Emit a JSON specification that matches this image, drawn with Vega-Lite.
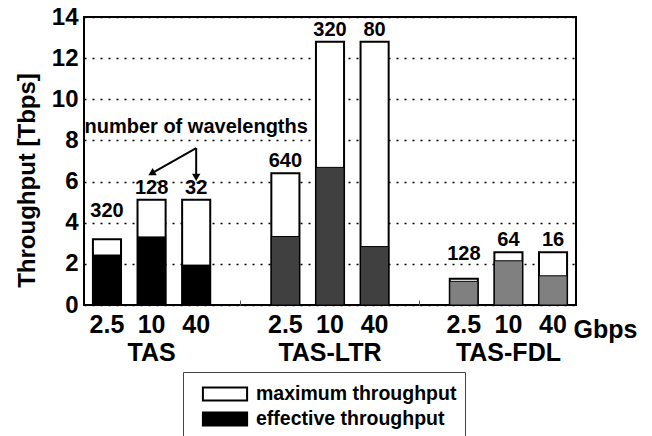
{
  "$schema": "https://vega.github.io/schema/vega-lite/v6.json",
  "width": 492,
  "height": 288,
  "autosize": "none",
  "padding": {"left": 84, "top": 17, "right": 76, "bottom": 131},
  "background": "white",
  "config": {
    "font": "Liberation Sans",
    "view": {"stroke": "black", "strokeWidth": 2},
    "axis": {"labelFont": "Liberation Sans", "labelFontWeight": "bold", "titleFont": "Liberation Sans", "titleFontWeight": "bold", "labelColor": "black", "titleColor": "black"},
    "axisY": {"labelFontSize": 24, "titleFontSize": 24, "labelPadding": 6},
    "text": {"font": "Liberation Sans", "fontWeight": "bold", "color": "black"}
  },
  "datasets": {
    "bars": [
      {"bar": "TAS|2.5", "group": "TAS", "rate": "2.5", "max": 3.2, "eff": 2.43, "waves": "320"},
      {"bar": "TAS|10", "group": "TAS", "rate": "10", "max": 5.12, "eff": 3.31, "waves": "128"},
      {"bar": "TAS|40", "group": "TAS", "rate": "40", "max": 5.12, "eff": 1.94, "waves": "32"},
      {"bar": "TAS-LTR|2.5", "group": "TAS-LTR", "rate": "2.5", "max": 6.4, "eff": 3.33, "waves": "640"},
      {"bar": "TAS-LTR|10", "group": "TAS-LTR", "rate": "10", "max": 12.8, "eff": 6.69, "waves": "320"},
      {"bar": "TAS-LTR|40", "group": "TAS-LTR", "rate": "40", "max": 12.8, "eff": 2.84, "waves": "80"},
      {"bar": "TAS-FDL|2.5", "group": "TAS-FDL", "rate": "2.5", "max": 1.28, "eff": 1.15, "waves": "128"},
      {"bar": "TAS-FDL|10", "group": "TAS-FDL", "rate": "10", "max": 2.56, "eff": 2.15, "waves": "64"},
      {"bar": "TAS-FDL|40", "group": "TAS-FDL", "rate": "40", "max": 2.56, "eff": 1.42, "waves": "16"}
    ],
    "note": [{"bar": "TAS|40", "y": 8.65, "text": "number of wavelengths"}],
    "arrows": [
      {"bar": "TAS|40", "bar2": "TAS|10", "y": 7.63, "y2": 6.4},
      {"bar": "TAS|40", "bar2": "TAS|40", "y": 7.63, "y2": 6.2}
    ]
  },
  "encoding": {
    "x": {
      "field": "bar", "type": "nominal",
      "scale": {"domain": ["TAS|2.5", "TAS|10", "TAS|40", "gap1", "TAS-LTR|2.5", "TAS-LTR|10", "TAS-LTR|40", "gap2", "TAS-FDL|2.5", "TAS-FDL|10", "TAS-FDL|40"], "paddingInner": 0.37, "paddingOuter": 0.2},
      "axis": {
        "title": "Gbps", "titleX": 489, "titleY": 12, "titleAlign": "left", "titleBaseline": "top", "titleFontSize": 25,
        "labelExpr": "indexof(datum.value,'gap')==0 ? '' : (split(datum.value,'|')[1] == '10' ? ['10', split(datum.value,'|')[0]] : split(datum.value,'|')[1])",
        "labelFontSize": 25, "labelLineHeight": 28, "labelPadding": 12, "labelAngle": 0, "labelOverlap": false, "labelBound": false,
        "domain": false, "ticks": true, "tickSize": -5, "tickColor": "#555", "tickWidth": 1, "zindex": 1,
        "tickOpacity": {"condition": {"test": "indexof(datum.value,'gap')==0", "value": 1}, "value": 0}
      }
    }
  },
  "layer": [
    {
      "data": {"name": "bars"},
      "mark": {"type": "bar", "stroke": "black", "strokeWidth": 2},
      "encoding": {
        "y": {"field": "max", "type": "quantitative", "scale": {"domain": [0, 14], "nice": false},
          "axis": {"values": [0, 2, 4, 6, 8, 10, 12, 14], "grid": true, "gridColor": "black", "gridDash": [2, 6], "gridWidth": 1.5, "ticks": false, "domain": false, "labelFontSize": 24, "labelPadding": 6, "title": "Throughput [Tbps]", "titleFontSize": 24, "titlePadding": 12, "titleY": 163}},
        "fill": {"datum": "maximum throughput", "type": "nominal",
          "scale": {"domain": ["maximum throughput", "effective throughput"], "range": ["white", "black"]},
          "legend": {"orient": "none", "legendX": 99, "legendY": 355, "title": null, "strokeColor": "#444", "fillColor": "white", "padding": 8, "symbolType": "M-1.7,-0.5H1.7V0.5H-1.7Z", "symbolSize": 676, "symbolStrokeColor": "black", "symbolStrokeWidth": 2, "symbolOffset": 20, "labelOffset": 17, "labelLimit": 400, "labelFontSize": 19.5, "labelFont": "Liberation Sans", "labelFontWeight": "bold", "labelColor": "black", "rowPadding": -4}}
      }
    },
    {
      "data": {"name": "bars"},
      "mark": {"type": "bar", "stroke": "black", "strokeWidth": 1},
      "encoding": {
        "y": {"field": "eff", "type": "quantitative"},
        "fill": {
          "condition": [
            {"test": "datum.group == 'TAS-LTR'", "value": "#404040"},
            {"test": "datum.group == 'TAS-FDL'", "value": "#808080"}
          ],
          "datum": "effective throughput", "type": "nominal"
        }
      }
    },
    {
      "data": {"name": "bars"},
      "transform": [{"filter": "datum.bar != 'TAS|2.5' && datum.bar != 'TAS-FDL|2.5'"}],
      "mark": {"type": "text", "baseline": "bottom", "dy": -2, "fontSize": 20},
      "encoding": {"y": {"field": "max", "type": "quantitative"}, "text": {"field": "waves"}}
    },
    {
      "data": {"name": "bars"},
      "transform": [{"filter": "datum.bar == 'TAS|2.5'"}],
      "mark": {"type": "text", "baseline": "bottom", "dy": -18, "fontSize": 20},
      "encoding": {"y": {"field": "max", "type": "quantitative"}, "text": {"field": "waves"}}
    },
    {
      "data": {"name": "bars"},
      "transform": [{"filter": "datum.bar == 'TAS-FDL|2.5'"}],
      "mark": {"type": "text", "baseline": "bottom", "dy": -15, "fontSize": 20},
      "encoding": {"y": {"field": "max", "type": "quantitative"}, "text": {"field": "waves"}}
    },
    {
      "data": {"name": "note"},
      "mark": {"type": "text", "baseline": "middle", "fontSize": 20},
      "encoding": {"y": {"field": "y", "type": "quantitative"}, "text": {"field": "text"}}
    },
    {
      "data": {"name": "arrows"},
      "mark": {"type": "rule", "stroke": "black", "strokeWidth": 2},
      "encoding": {"x2": {"field": "bar2"}, "y": {"field": "y", "type": "quantitative"}, "y2": {"field": "y2"}}
    },
    {
      "data": {"name": "arrows"},
      "transform": [{"filter": "datum.bar2 == 'TAS|10'"}],
      "mark": {"type": "point", "shape": "triangle-up", "angle": 240, "filled": true, "color": "black", "opacity": 1, "size": 70},
      "encoding": {"x": {"field": "bar2", "type": "nominal"}, "y": {"field": "y2", "type": "quantitative"}}
    },
    {
      "data": {"name": "arrows"},
      "transform": [{"filter": "datum.bar2 == 'TAS|40'"}],
      "mark": {"type": "point", "shape": "triangle-up", "angle": 180, "filled": true, "color": "black", "opacity": 1, "size": 70},
      "encoding": {"x": {"field": "bar2", "type": "nominal"}, "y": {"field": "y2", "type": "quantitative"}}
    }
  ]
}
